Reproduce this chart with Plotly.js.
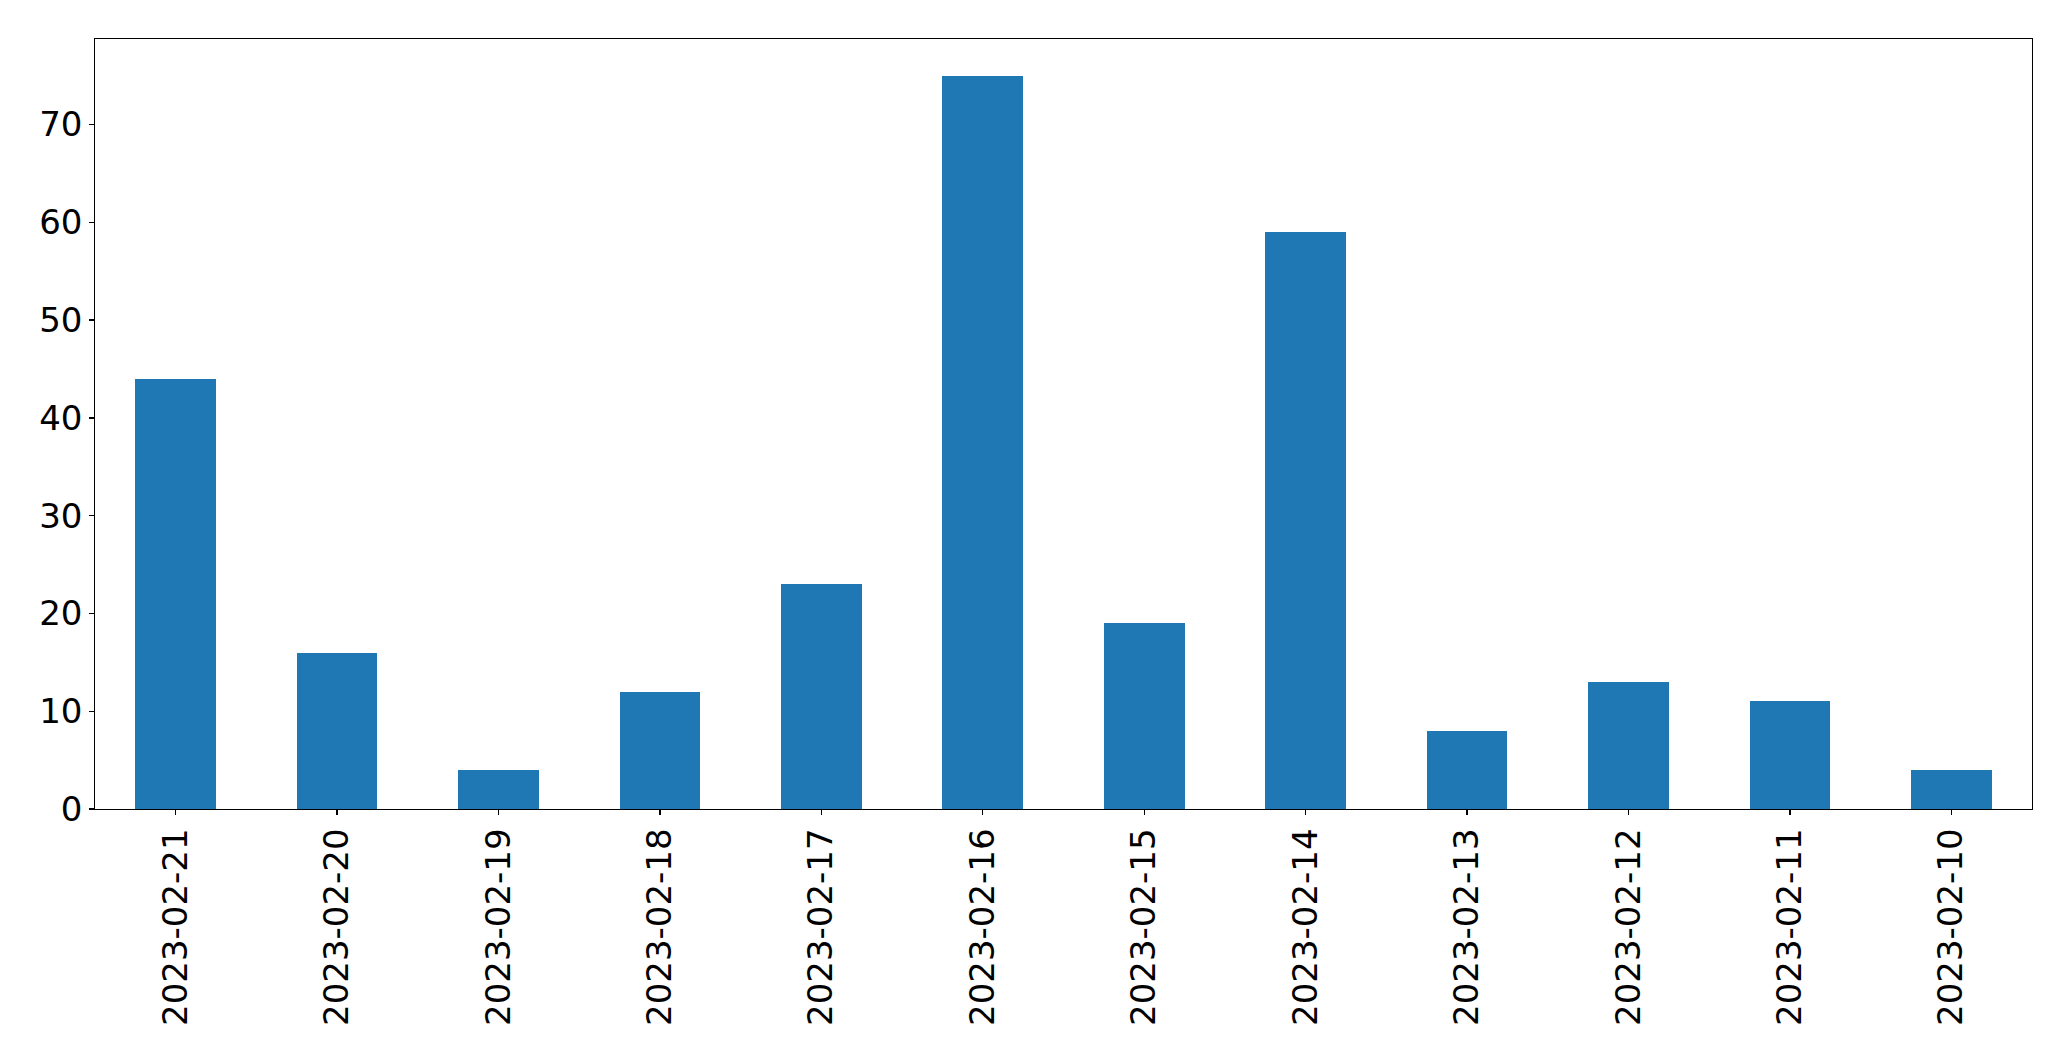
<!DOCTYPE html>
<html>
<head>
<meta charset="utf-8">
<script src="https://cdn.plot.ly/plotly-3.0.1.min.js"></script>
<style>html,body{margin:0;padding:0;background:#fff;}#chart{width:2071px;height:1061px;}</style>
</head>
<body>
<div id="chart"></div>
<script>
const dates = ["2023-02-21","2023-02-20","2023-02-19","2023-02-18","2023-02-17","2023-02-16","2023-02-15","2023-02-14","2023-02-13","2023-02-12","2023-02-11","2023-02-10"];
const counts = [44,16,4,12,23,75,19,59,8,13,11,4];
const yTicks = [0,10,20,30,40,50,60,70];

const trace = {
  type: 'bar',
  x: dates,
  y: counts,
  width: 0.5,
  marker: {color: '#1f77b4', line: {width: 0}},
  hoverinfo: 'x+y'
};

const font = {family: 'DejaVu Sans, sans-serif', size: 34, color: '#000'};

const layout = {
  width: 2071,
  height: 1061,
  margin: {l: 94.5, r: 39.3, t: 39.3, b: 252, pad: 0},
  paper_bgcolor: '#fff',
  plot_bgcolor: '#fff',
  showlegend: false,
  bargap: 0,
  font: font,
  xaxis: {
    type: 'category',
    range: [-0.5, 11.5],
    tickangle: -90,
    ticks: 'outside',
    ticklen: 4.5,
    tickwidth: 1.3,
    tickcolor: '#000',
    showline: true,
    linecolor: '#000',
    linewidth: 1.3,
    mirror: true,
    showgrid: false,
    zeroline: false,
    tickfont: font,
    automargin: false
  },
  yaxis: {
    range: [0, 78.75],
    tickmode: 'array',
    tickvals: yTicks,
    ticktext: yTicks.map(String),
    ticks: 'outside',
    ticklen: 4.5,
    tickwidth: 1.3,
    tickcolor: '#000',
    showline: true,
    linecolor: '#000',
    linewidth: 1.3,
    mirror: true,
    showgrid: false,
    zeroline: false,
    tickfont: font,
    automargin: false
  }
};

Plotly.newPlot('chart', [trace], layout, {staticPlot: true, displayModeBar: false});
</script>
</body>
</html>
